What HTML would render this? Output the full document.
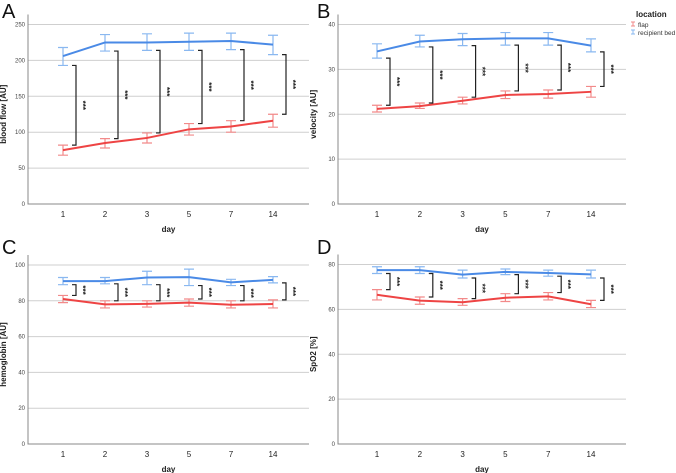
<!DOCTYPE html>
<html><head><meta charset="utf-8"><style>
body{margin:0;background:#fff;font-family:"Liberation Sans",sans-serif}
svg{display:block}
</style></head><body>
<svg id="chart" width="676" height="473"></svg>
<script>
const days=["1","2","3","5","7","14"];
const flowFlap=[75,85,92,104,108,116];
const flowFlapLo=[68,78,85,96,100,107];
const flowFlapHi=[82,91,99,112,116,125];
const flowBed=[206,225,225,226,227,222];
const flowBedLo=[193,213,214,214,215,208];
const flowBedHi=[218,236,237,238,238,235];
const velFlap=[21.2,21.8,23,24.3,24.5,25];
const velFlapLo=[20.5,21.3,22.3,23.5,23.6,23.8];
const velFlapHi=[22,22.5,23.8,25.2,25.4,26.2];
const velBed=[34,36.2,36.7,36.9,36.9,35.3];
const velBedLo=[32.5,35,35.3,35.4,35.4,33.9];
const velBedHi=[35.7,37.6,38,38.2,38.2,36.8];
const hbFlap=[81,78,78.3,79,77.8,78.2];
const hbFlapLo=[79,76,76.5,77,76,76];
const hbFlapHi=[83,80,80,81,80,80.5];
const hbBed=[91,91,93,93.2,90.3,91.7];
const hbBedLo=[89,89.5,89,88.5,88.5,90];
const hbBedHi=[93,93,96.5,97.7,92,93.5];
const spoFlap=[66.5,63.9,63.2,65.2,65.8,62.3];
const spoFlapLo=[64.2,62.3,61.8,63.5,64.2,60.8];
const spoFlapHi=[68.8,65.5,64.8,67,67.5,64];
const spoBed=[77.5,77.5,75.5,76.7,76.2,75.6];
const spoBedLo=[76,76,74,75.5,74.8,74];
const spoBedHi=[79,79,77.5,78,77.5,77.5];
const flowTicks=[0,50,100,150,200,250];
const velTicks=[0,10,20,30,40];
const hbTicks=[0,20,40,60,80,100];
const spoTicks=[0,20,40,60,80];

const NS="http://www.w3.org/2000/svg";
const svg=document.getElementById('chart');
function mk(tag,attrs,parent,text){const e=document.createElementNS(NS,tag);for(const k in attrs)e.setAttribute(k,attrs[k]);if(text!==undefined)e.textContent=text;(parent||svg).appendChild(e);return e;}
const RED="#ee4444",BLUE="#4a8ae6",RED_E="#f28a8a",BLUE_E="#8ab8f0";

function panel(cfg){
  const g=mk('g',{});
  
  
  const yS=v=>cfg.y0-(v-0)/cfg.ymax*(cfg.y0-cfg.yTop);
  const xS=i=>cfg.x1+i*cfg.dx;
  const L=mk('text',{x:cfg.lx,y:cfg.ly,'font-size':20,fill:'#111'},g,cfg.letter);
  
  
  cfg.ticks.forEach(t=>{
    const y=yS(t);
    if(t>0){const gl=mk('line',{x1:cfg.left,x2:cfg.right,y1:y,y2:y,stroke:'#cfcfcf','stroke-width':1},g);
    }
    const tl=mk('text',{x:cfg.left-3,y:y+2,'font-size':6,fill:'#444','text-anchor':'end'},g,t);
    
  });
  const ax=mk('path',{d:`M${cfg.left},${cfg.yTop-10}V${cfg.y0}H${cfg.right}`,stroke:'#888',fill:'none','stroke-width':1},g);
  
  days.forEach((d,i)=>{
    const t=mk('text',{x:xS(i),y:cfg.y0+13,'font-size':8,fill:'#222','text-anchor':'middle'},g,d);
    
  });
  const xt=mk('text',{x:(cfg.left+cfg.right)/2,y:cfg.y0+28,'font-size':8,'font-weight':'bold',fill:'#222','text-anchor':'middle'},g,'day');
  
  const ycx=cfg.left-22,ycy=(cfg.yTop+cfg.y0)/2;
  const yt=mk('text',{x:ycx,y:ycy,'font-size':8,'font-weight':'bold',fill:'#222','text-anchor':'middle',transform:`rotate(-90 ${ycx} ${ycy})`},g,cfg.ytitle);
  
  function series(vals,lo,hi,col,ecol,nm){
    days.forEach((d,i)=>{
      const x=xS(i),a=yS(lo[i]),b=yS(hi[i]);
      const e=mk('path',{d:`M${x},${a}V${b}M${x-5},${a}H${x+5}M${x-5},${b}H${x+5}`,stroke:ecol,'stroke-width':1.2,fill:'none'},g);
      
    });
    const p=mk('polyline',{points:vals.map((v,i)=>xS(i)+','+yS(v)).join(' '),stroke:col,'stroke-width':2,fill:'none'},g);
    
  }
  series(cfg.flap,cfg.flapLo,cfg.flapHi,RED,RED_E,'flap');
  series(cfg.bed,cfg.bedLo,cfg.bedHi,BLUE,BLUE_E,'recipient-bed');
  days.forEach((d,i)=>{
    const x=xS(i)+13,a=yS(cfg.bedLo[i]),b=yS(cfg.flapHi[i]);
    const br=mk('path',{d:`M${x-4},${a}H${x}V${b}H${x-4}`,stroke:'#222','stroke-width':1.2,fill:'none'},g);
    
    const m=(a+b)/2,sx=x+4;
    const st=mk('text',{x:sx,y:m,'font-size':8,'font-weight':'bold',fill:'#222','text-anchor':'middle',transform:`rotate(90 ${sx} ${m})`},g,'***');
    
  });
}
panel({name:'panel-a-blood-flow',letter:'A',lx:2,ly:18,left:28,right:309,yTop:24.5,y0:204,ymax:250,x1:63,dx:42,ticks:flowTicks,ytitle:'blood flow [AU]',flap:flowFlap,flapLo:flowFlapLo,flapHi:flowFlapHi,bed:flowBed,bedLo:flowBedLo,bedHi:flowBedHi});
panel({name:'panel-b-velocity',letter:'B',lx:317,ly:18,left:338,right:626,yTop:24.5,y0:204,ymax:40,x1:377,dx:42.8,ticks:velTicks,ytitle:'velocity [AU]',flap:velFlap,flapLo:velFlapLo,flapHi:velFlapHi,bed:velBed,bedLo:velBedLo,bedHi:velBedHi});
panel({name:'panel-c-hemoglobin',letter:'C',lx:2,ly:254,left:28,right:309,yTop:265,y0:444,ymax:100,x1:63,dx:42,ticks:hbTicks,ytitle:'hemoglobin [AU]',flap:hbFlap,flapLo:hbFlapLo,flapHi:hbFlapHi,bed:hbBed,bedLo:hbBedLo,bedHi:hbBedHi});
panel({name:'panel-d-spo2',letter:'D',lx:317,ly:254,left:338,right:626,yTop:264.5,y0:444,ymax:80,x1:377,dx:42.8,ticks:spoTicks,ytitle:'SpO2 [%]',flap:spoFlap,flapLo:spoFlapLo,flapHi:spoFlapHi,bed:spoBed,bedLo:spoBedLo,bedHi:spoBedHi});

const lg=mk('g',{});


mk('text',{x:636,y:17,'font-size':8,'font-weight':'bold',fill:'#222'},lg,'location');
[['flap',RED_E,27],['recipient bed',BLUE_E,35]].forEach(([n,c,y])=>{
  const e=mk('g',{},lg);
  
  
  mk('path',{d:`M631,${y-5}H635M633,${y-5}V${y-1}M631,${y-1}H635`,stroke:c,'stroke-width':1,fill:'none'},e);
  mk('text',{x:638,y:y,'font-size':6.5,fill:'#333'},e,n);
});
</script>
</body></html>
